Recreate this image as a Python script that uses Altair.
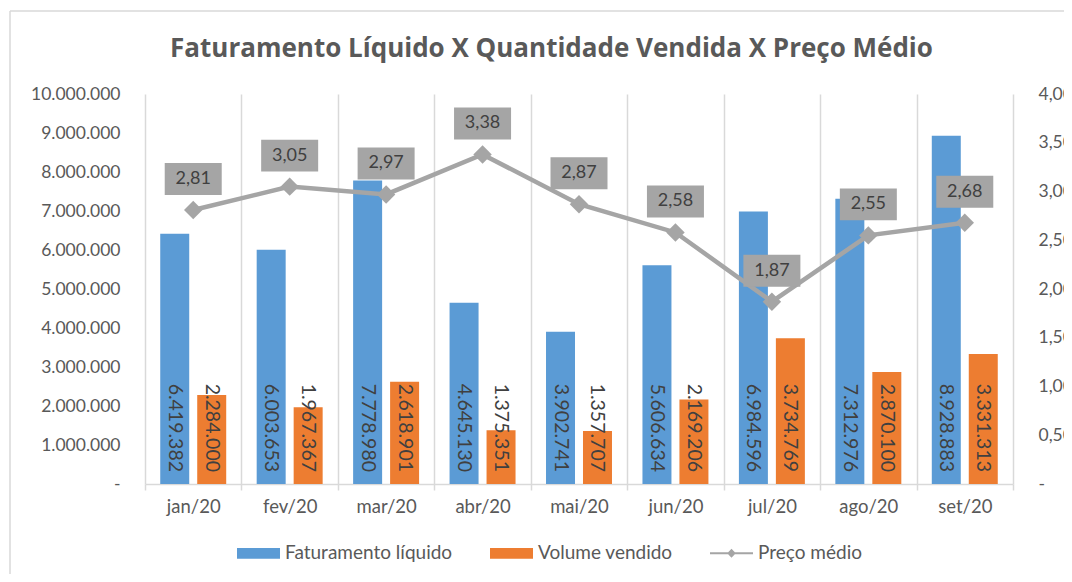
import altair as alt
import pandas as pd

meses = ["jan/20", "fev/20", "mar/20", "abr/20", "mai/20", "jun/20", "jul/20", "ago/20", "set/20"]
faturamento = [6419382, 6003653, 7778980, 4645130, 3902741, 5606634, 6984596, 7312976, 8928883]
volume = [2284000, 1967367, 2618901, 1375351, 1357707, 2169206, 3734769, 2870100, 3331313]
preco = [2.81, 3.05, 2.97, 3.38, 2.87, 2.58, 1.87, 2.55, 2.68]
series = ["Faturamento líquido", "Volume vendido", "Preço médio"]
cores = ["#5b9bd5", "#ed7d31", "#a5a5a5"]
ticks_esq = [0, 1000000, 2000000, 3000000, 4000000, 5000000, 6000000, 7000000, 8000000, 9000000, 10000000]
ticks_dir = [0, 0.5, 1.0, 1.5, 2.0, 2.5, 3.0, 3.5, 4.0]
titulo = "Faturamento Líquido X Quantidade Vendida X Preço Médio"

bars_df = pd.DataFrame({
    "mes": meses * 2,
    "serie": [series[0]] * len(meses) + [series[1]] * len(meses),
    "valor": faturamento + volume,
})
line_df = pd.DataFrame({"mes": meses, "serie": series[2], "preco": preco})
one_df = pd.DataFrame({"k": [0]})

RECT = "M-1,-0.25H1V0.25H-1Z"
LINE_SYM = "M-1,-0.05H1V0.05H-1Z M0,-0.21L0.2,0L0,0.21L-0.2,0Z"
BOX = "M-1,-0.56H1V0.56H-1Z"

FONT = "Lato"
GRID = "#d9d9d9"
TXT = "#595959"
LBL = "#404040"

W, H = 868, 390

x_enc = alt.X(
    "mes:N", sort=meses,
    scale=alt.Scale(domain=meses, paddingInner=0, paddingOuter=0),
    axis=alt.Axis(title=None, tickBand="extent", grid=True, gridColor=GRID, gridWidth=1.5,
                  domainColor=GRID, domainWidth=1.5, tickColor=GRID, tickWidth=1.5, tickSize=6,
                  labelPadding=7, labelFont=FONT, labelFontSize=18.5, labelColor=TXT, labelAngle=0),
)

legend_spec = dict(title=None, orient="none", legendX=92, legendY=437.5, direction="horizontal",
                   symbolSize=1849, labelFont=FONT, labelFontSize=19, labelColor=TXT,
                   labelOffset=5, columnPadding=37, symbolStrokeWidth=0, labelLimit=400)

color_enc = alt.Color("serie:N", scale=alt.Scale(domain=series, range=cores),
                      legend=alt.Legend(**legend_spec))

y_left = alt.Y(
    "valor:Q",
    scale=alt.Scale(domain=[0, 10000000], nice=False),
    axis=alt.Axis(orient="left", values=ticks_esq, tickCount=20, format=",.0f",
                  labelExpr="datum.value == 0 ? '-\u00a0\u00a0\u00a0' : datum.label",
                  ticks=False, domain=False, grid=False, title=None, labelPadding=25,
                  labelOverlap=False, labelFont=FONT, labelFontSize=17.5, labelColor=TXT),
)
y_right = alt.Y(
    "preco:Q",
    scale=alt.Scale(domain=[0, 4], nice=False),
    axis=alt.Axis(orient="right", values=ticks_dir, tickCount=20, format=".2f",
                  labelExpr="datum.value == 0 ? '-' : datum.label",
                  ticks=False, domain=False, grid=False, title=None, labelPadding=25,
                  labelOverlap=False, labelFont=FONT, labelFontSize=17.5, labelColor=TXT),
)
x_off = alt.XOffset("serie:N", scale=alt.Scale(domain=series[:2], paddingInner=0.216, paddingOuter=0.412))

base_bars = alt.Chart(bars_df)
bars = base_bars.mark_bar().encode(x=x_enc, xOffset=x_off, y=y_left, color=color_enc)
bar_text = base_bars.mark_text(angle=90, align="right", baseline="middle", dx=-12,
                               font=FONT, fontSize=19.5, color=LBL).encode(
    x=x_enc, xOffset=x_off, y=alt.datum(0),
    text=alt.Text("valor:Q", format=",.0f"))
bars_group = alt.layer(bars, bar_text)

base_line = alt.Chart(line_df)
line = base_line.mark_line(color=cores[2], strokeWidth=4.5).encode(x=x_enc, y=y_right)
pts = base_line.mark_point(shape="diamond", filled=True, size=340, color=cores[2], opacity=1).encode(
    x=x_enc, y=y_right)
boxes = base_line.mark_point(shape=BOX, filled=True, size=57 * 57, color=cores[2], opacity=1,
                             yOffset=-31).encode(x=x_enc, y=y_right)
box_text = base_line.mark_text(dy=-31, baseline="middle", font=FONT, fontSize=18, color=LBL).encode(
    x=x_enc, y=y_right, text=alt.Text("preco:Q", format=".2f"))
legend_layer = base_line.mark_point(filled=True, opacity=1).transform_filter("false").encode(
    x=x_enc, y=y_right, color=color_enc,
    shape=alt.Shape("serie:N", scale=alt.Scale(domain=series, range=[RECT, RECT, LINE_SYM]),
                    legend=alt.Legend(**legend_spec)))
line_group = alt.layer(line, pts, boxes, box_text, legend_layer)

frame = alt.Chart(one_df).mark_rule(color=GRID, strokeWidth=1.5)
left_rule = frame.encode(x=alt.value(-135), y=alt.value(-83), y2=alt.value(480))
top_rule = frame.encode(x=alt.value(-135), x2=alt.value(927), y=alt.value(-83))
title_mark = alt.Chart(one_df).mark_text(text=titulo, font="Open Sans", fontSize=26, fontWeight="bold",
                                         color=TXT, align="center", baseline="alphabetic").encode(
    x=alt.value(406.5), y=alt.value(-37))

chart = alt.layer(bars_group, line_group, left_rule, top_rule, title_mark).resolve_scale(
    y="independent"
).properties(
    width=W, height=H,
    padding={"left": 137, "top": 86, "right": 51, "bottom": 90},
    autosize=alt.AutoSizeParams(type="none"),
).configure(
    locale=alt.Locale(number=alt.NumberLocale(decimal=",", thousands=".", grouping=[3], currency=["R$", ""]))
).configure_view(stroke=None)

chart.save("out.html", embed_options={"renderer": "svg", "actions": False})
